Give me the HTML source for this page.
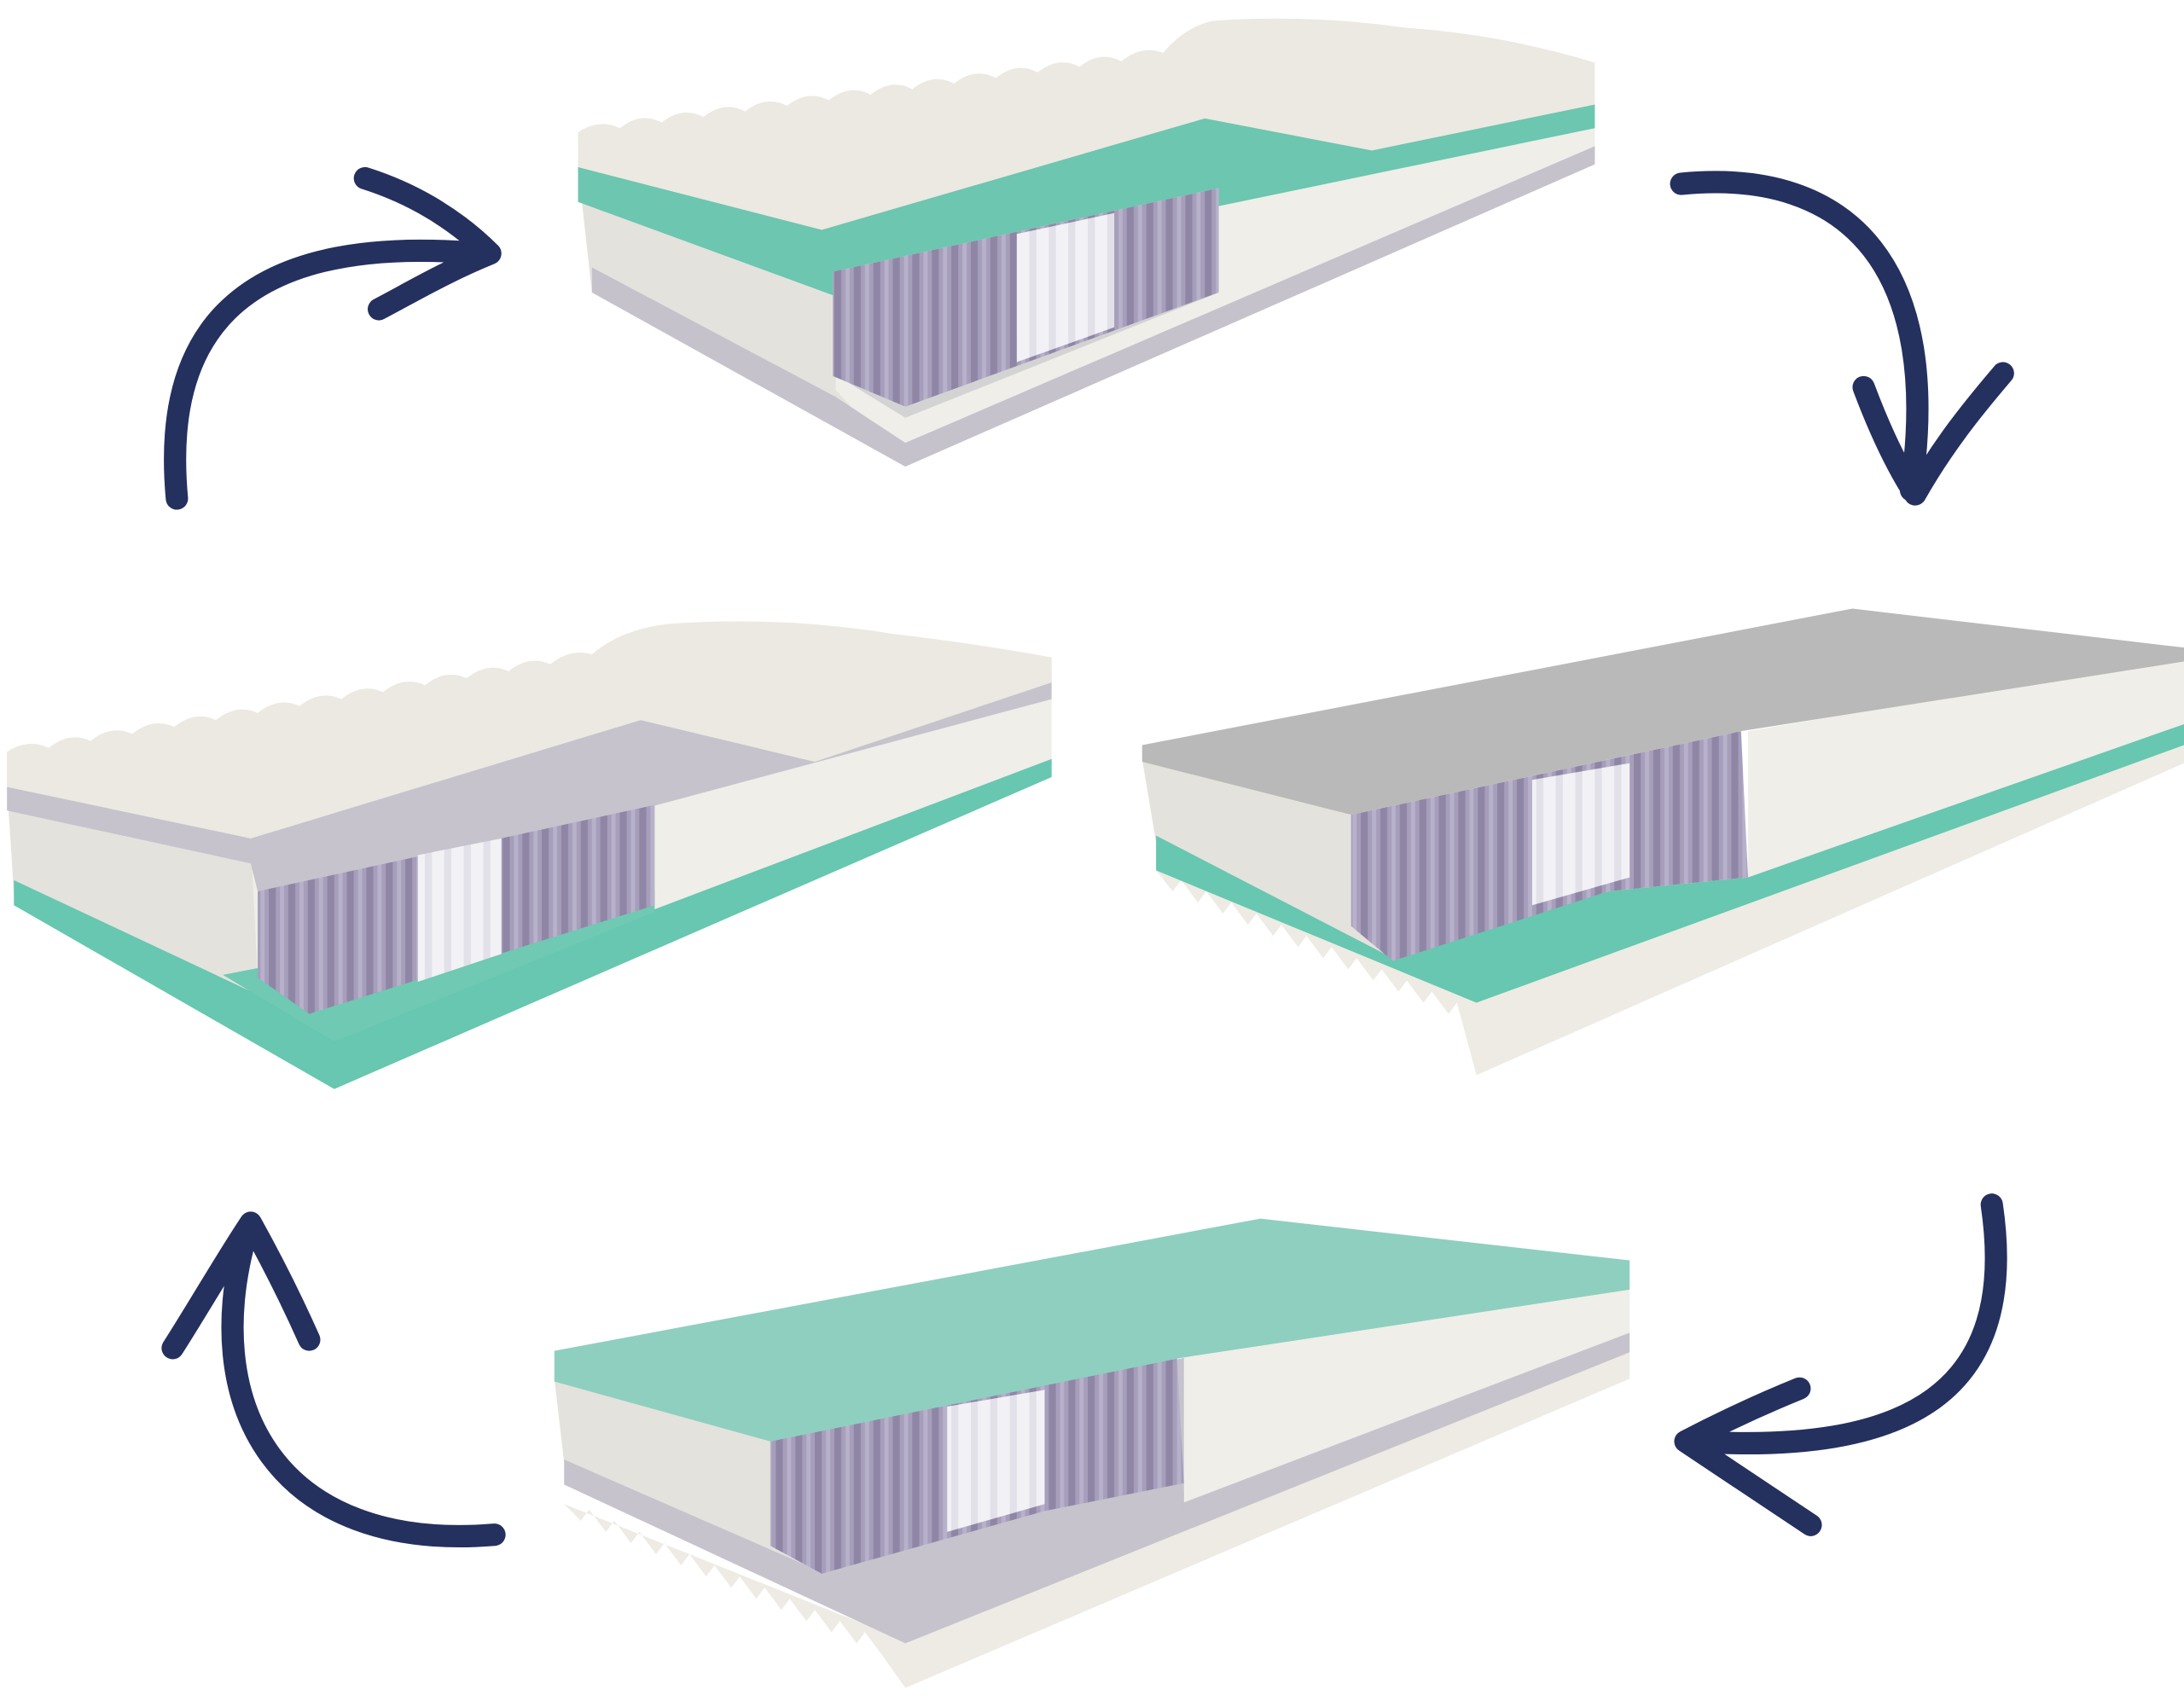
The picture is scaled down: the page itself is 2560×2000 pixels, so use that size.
<!DOCTYPE html>
<html><head><meta charset="utf-8"><style>
html,body{margin:0;padding:0;background:#fff;}
svg{display:block;}
</style></head><body>
<svg width="2560" height="2000" viewBox="0 0 1568 1225" preserveAspectRatio="none" xmlns="http://www.w3.org/2000/svg">
<defs>
<pattern id="spr" width="14" height="20" patternUnits="userSpaceOnUse">
<rect width="14" height="20" fill="#8f86a6"/>
<rect x="2" width="9" height="20" fill="#a69ebb"/>
<rect x="5" width="3" height="20" fill="#b8b1cb"/>
</pattern>
<pattern id="sprw" width="14" height="20" patternUnits="userSpaceOnUse">
<rect width="14" height="20" fill="#e2e0e8"/>
<rect x="2" width="9" height="20" fill="#f2f1f5"/>
</pattern>
</defs>

<!-- Mattress 1 (top) -->
<g>
<polygon points="415,100 860,40 1145,50 1145,118 650,335 425,210" fill="#efeee9"/>
<polygon points="415,120 600,195 600,280 650,335 425,210" fill="#e4e2dd"/>
<polygon points="425,192 600,285 650,318 1145,105 1145,118 650,335 425,210" fill="#c5c2cc"/>
<polygon points="598,268 650,300 875,210 875,200" fill="#d3d3d3"/>
<polygon points="598,195 875,135 875,210 650,292 598,270" fill="url(#spr)"/>
<polygon points="730,168 800,153 800,235 730,260" fill="url(#sprw)"/>
<polygon points="415,120 590,165 865,85 985,108 1145,75 1145,92 875,148 875,135 598,195 598,212 415,145" fill="#6cc6b0"/>
<path d="M415,95 Q430,85 445,92 Q460,80 475,88 Q490,76 505,84 Q520,72 535,80 Q550,68 565,76 Q580,64 595,72 Q610,60 625,68 Q640,56 655,64 Q670,52 685,60 Q700,48 715,56 Q730,44 745,52 Q760,40 775,48 Q790,36 805,44 Q820,32 835,38 Q850,20 870,15 Q940,10 1010,20 Q1080,25 1145,45 L1145,75 L985,108 L865,85 L590,165 L415,120 Z" fill="#ebe9e1"/>
</g>

<!-- Mattress 2 (mid-left) -->
<g>
<polygon points="5,545 480,470 755,480 755,555 240,780 10,650" fill="#efeee9"/>
<polygon points="5,565 180,605 185,700 240,745 10,640" fill="#e4e2dd"/>
<polygon points="10,632 240,740 755,545 755,558 240,782 10,650" fill="#67c7b0"/>
<polygon points="160,700 240,748 470,655 470,640" fill="#6fc9b3"/>
<polygon points="5,565 180,602 460,517 585,547 755,490 755,502 472,578 185,640 180,620 5,582" fill="#c6c3cd"/>
<polygon points="185,640 470,578 470,650 222,728 185,702" fill="url(#spr)"/>
<polygon points="300,614 360,602 360,685 300,705" fill="url(#sprw)"/>
<path d="M5,540 Q20,530 35,537 Q50,525 65,532 Q80,520 95,527 Q110,515 125,522 Q140,510 155,517 Q170,505 185,512 Q200,500 215,507 Q230,495 245,502 Q260,490 275,497 Q290,485 305,492 Q320,480 335,487 Q350,475 365,482 Q380,470 395,477 Q410,465 425,470 Q445,452 480,448 Q560,442 640,455 Q700,462 755,472 L755,490 L585,547 L460,517 L180,602 L5,565 Z" fill="#ebe9e1"/>
</g>

<!-- Mattress 3 (mid-right) -->
<g>
<path d="M830,625 L842,640 L848,632 L860,648 L866,640 L878,656 L884,648 L896,664 L902,656 L914,672 L920,664 L932,680 L938,672 L950,688 L956,680 L968,696 L974,688 L986,704 L992,696 L1004,712 L1010,704 L1022,720 L1028,712 L1040,728 L1046,720 L1060,772 L1568,548 L1568,530 L1060,718 Z" fill="#edebe3"/>
<polygon points="1255,525 1568,472 1568,522 1255,632" fill="#efeee9"/>
<polygon points="820,545 970,585 970,665 1000,690 830,605" fill="#e4e2dd"/>
<polygon points="830,600 1000,688 1155,640 1255,630 1568,520 1568,535 1060,720 830,625" fill="#67c7b0"/>
<polygon points="970,585 1250,525 1255,630 1155,640 1000,690 970,665" fill="url(#spr)"/>
<polygon points="1100,560 1170,548 1170,630 1100,650" fill="url(#sprw)"/>
<polygon points="820,535 1330,437 1568,465 1568,475 1250,525 970,585 820,547" fill="#b9b9b9"/>
</g>

<!-- Mattress 4 (bottom) -->
<g>
<path d="M405,1080 L417,1092 L423,1084 L435,1100 L441,1092 L453,1108 L459,1100 L471,1116 L477,1108 L489,1124 L495,1116 L507,1132 L513,1124 L525,1140 L531,1132 L543,1148 L549,1140 L561,1156 L567,1148 L579,1164 L585,1156 L597,1172 L603,1164 L615,1180 L621,1172 L633,1188 L650,1212 L1170,990 L1170,970 L650,1178 Z" fill="#edebe3"/>
<polygon points="848,975 1170,925 1170,960 650,1160 850,1085" fill="#efeee9"/>
<polygon points="398,990 553,1035 553,1110 590,1130 650,1155 405,1050" fill="#e4e2dd"/>
<polygon points="553,1035 850,975 850,1085 650,1155 553,1110" fill="#c6c3cd"/>
<polygon points="405,1048 650,1155 1170,957 1170,971 650,1180 405,1066" fill="#c6c3cd"/>
<polygon points="590,1112 745,1075 745,1095 850,1070 850,1085 650,1155 590,1132" fill="#c6c3cd"/>
<polygon points="553,1035 845,975 850,1065 750,1085 590,1130 553,1110" fill="url(#spr)"/>
<polygon points="680,1010 750,998 750,1080 680,1100" fill="url(#sprw)"/>
<polygon points="398,970 905,875 1170,905 1170,926 848,975 553,1035 398,992" fill="#8ecfc0"/>
</g>

<!-- Arrows -->
<g fill="none" stroke="#24305e" stroke-linecap="round" stroke-linejoin="round" stroke-width="16">
<path d="M127,358 C118,260 150,165 345,182"/>
<path d="M262,128 C300,140 330,160 352,182 C320,195 295,210 272,222"/>
<path d="M1207,132 C1330,120 1395,195 1372,352"/>
<path d="M1338,278 C1350,310 1362,335 1375,355 C1395,320 1415,295 1438,268"/>
<path d="M1430,865 C1450,1000 1370,1045 1215,1035"/>
<path d="M1292,997 C1260,1010 1235,1022 1210,1035 C1240,1055 1270,1075 1300,1095"/>
<path d="M355,1102 C200,1115 140,1010 178,882"/>
<path d="M124,968 C145,935 162,905 180,878 C195,905 210,935 222,962"/>
</g>
</svg>
</body></html>
